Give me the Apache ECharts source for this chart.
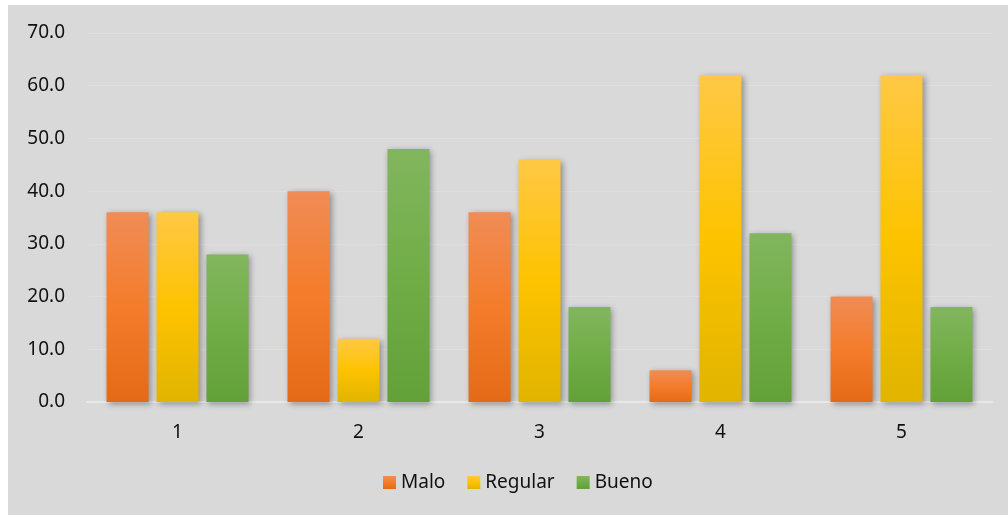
<!DOCTYPE html>
<html>
<head>
<meta charset="utf-8">
<script src="https://cdn.jsdelivr.net/npm/echarts@6/dist/echarts.min.js"></script>
<style>
    body {
        margin: 0;
        background-color: #ffffff;
    }

    #chart {
        position: absolute;
        left: 8px;
        top: 5px;
        width: 1000px;
        height: 510px;
        background-color: #d9d9d9;
    }
</style>
</head>
<body>
<div id="chart"></div>
<script>
    var categories = ['1', '2', '3', '4', '5'];
    var malo = [36, 40, 36, 6, 20];
    var regular = [36, 12, 46, 62, 62];
    var bueno = [28, 48, 18, 32, 18];

    // degradado vertical de cada barra
    function grad(top, mid, bottom) {
        return new echarts.graphic.LinearGradient(0, 0, 0, 1, [
            {offset: 0, color: top},
            {offset: 0.5, color: mid},
            {offset: 1, color: bottom}
        ]);
    }

    var shadow = {
        shadowBlur: 6,
        shadowColor: 'rgba(0,0,0,0.35)',
        shadowOffsetX: 2,
        shadowOffsetY: 2
    };

    function barSeries(name, data, top, mid, bottom) {
        return {
            name: name,
            type: 'bar',
            data: data,
            barWidth: 42,
            barGap: '19%',
            itemStyle: Object.assign({color: grad(top, mid, bottom)}, shadow)
        };
    }

    var myChart = echarts.init(document.getElementById('chart'));

    myChart.setOption({
        animation: false,
        textStyle: {fontFamily: '"Noto Sans", sans-serif'},
        color: ['#f07f2f', '#fdc20f', '#70ad47'],
        legend: {
            bottom: 18,
            left: 370,
            itemWidth: 13,
            itemHeight: 13,
            itemGap: 22,
            icon: 'rect',
            textStyle: {fontSize: 19, color: '#111'},
            data: ['Malo', 'Regular', 'Bueno']
        },
        grid: {
            left: 79,
            right: 16,
            top: 28,
            bottom: 113
        },
        xAxis: {
            type: 'category',
            data: categories,
            axisLine: {lineStyle: {color: '#e8e8e8', width: 2}},
            axisTick: {show: false},
            axisLabel: {fontSize: 19, color: '#111', margin: 21}
        },
        yAxis: {
            type: 'value',
            min: 0,
            max: 70,
            interval: 10,
            axisLabel: {
                fontSize: 19,
                color: '#111',
                margin: 22,
                formatter: function (v) { return v.toFixed(1); }
            },
            splitLine: {lineStyle: {color: '#dfdfdf', width: 1}}
        },
        series: [
            barSeries('Malo', malo, '#f08c56', '#f47c2a', '#e46a17'),
            barSeries('Regular', regular, '#ffc845', '#fdc300', '#e0b400'),
            barSeries('Bueno', bueno, '#82b65e', '#70ad47', '#62a038')
        ]
    });
</script>
</body>
</html>
